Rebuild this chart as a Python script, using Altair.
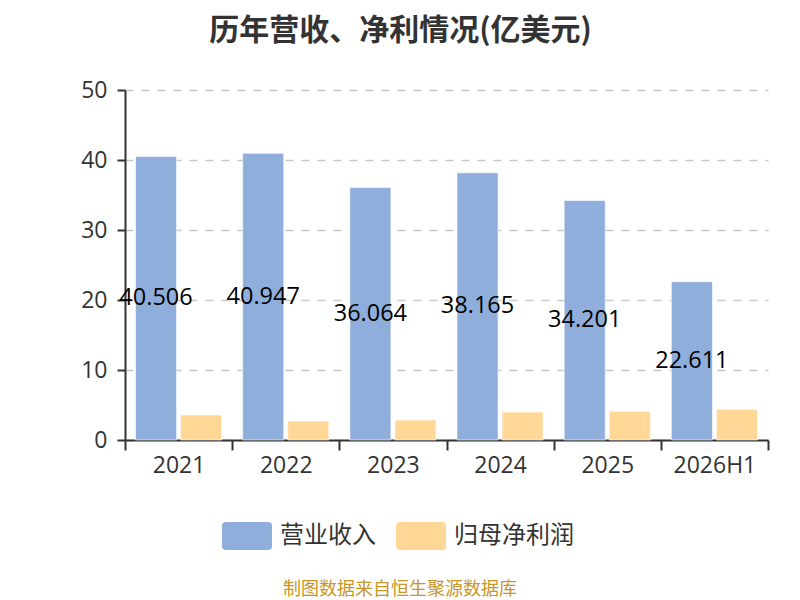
import altair as alt
import pandas as pd

years = ["2021", "2022", "2023", "2024", "2025", "2026H1"]
revenue = [40.506, 40.947, 36.064, 38.165, 34.201, 22.611]
net_profit = [3.57, 2.71, 2.86, 4.0, 4.1, 4.38]
series_names = ["营业收入", "归母净利润"]
colors = ["#8FAEDB", "#FFD898"]

rows = []
for y, r, n in zip(years, revenue, net_profit):
    rows.append({"year": y, "series": series_names[0], "value": r, "label": f"{r:.3f}"})
    rows.append({"year": y, "series": series_names[1], "value": n, "label": ""})
df = pd.DataFrame(rows)
df["half"] = df["value"] / 2

FONT = "Noto Sans CJK SC"
NUM_FONT = "Open Sans"
legend_shape = ("M-0.84,-0.56 H0.84 Q1,-0.56 1,-0.4 V0.4 Q1,0.56 0.84,0.56 "
                "H-0.84 Q-1,0.56 -1,0.4 V-0.4 Q-1,-0.56 -0.84,-0.56 Z")

x_enc = alt.X("year:N", sort=years, title=None,
              scale=alt.Scale(paddingInner=0, paddingOuter=0),
              axis=alt.Axis(labelAngle=0, labelFontSize=23, labelColor="#333",
                            labelFont=NUM_FONT, labelPadding=4,
                            domainColor="#333", domainWidth=2,
                            tickColor="#333", tickWidth=2, tickSize=10,
                            tickBand="extent", grid=False))

xoff = alt.XOffset("series:N", sort=series_names,
                   scale=alt.Scale(paddingInner=0.089, paddingOuter=0.233))

bars = alt.Chart(df).mark_bar(stroke="white", strokeWidth=1, strokeOpacity=0.6).encode(
    x=x_enc,
    xOffset=xoff,
    y=alt.Y("value:Q", title=None,
            scale=alt.Scale(domain=[0, 50]),
            axis=alt.Axis(values=[0, 10, 20, 30, 40, 50], labelFontSize=23,
                          labelColor="#333", labelFont=NUM_FONT, labelPadding=10,
                          domainColor="#333", domainWidth=2,
                          tickColor="#333", tickWidth=2, tickSize=8,
                          gridColor="#c8c8c8", gridDash=[8, 8], gridWidth=1.5)),
    color=alt.Color("series:N", sort=series_names,
                    scale=alt.Scale(domain=series_names, range=colors),
                    legend=alt.Legend(title=None, orient="none", direction="horizontal",
                                      legendX=97, legendY=421,
                                      symbolType=legend_shape, symbolSize=2500,
                                      symbolStrokeWidth=0, symbolOpacity=1,
                                      labelFontSize=24, labelColor="#333",
                                      labelFont=FONT, labelOffset=8,
                                      columnPadding=20)),
)

labels = alt.Chart(df).transform_filter(
    alt.datum.series == series_names[0]
).mark_text(fontSize=23.5, color="#000", font=NUM_FONT, baseline="middle").encode(
    x=alt.X("year:N", sort=years),
    xOffset=xoff,
    y=alt.Y("half:Q"),
    text="label:N",
)

footer_df = pd.DataFrame({"t": ["制图数据来自恒生聚源数据库"]})
footer = alt.Chart(footer_df).mark_text(
    fontSize=18, color="#C8952A", font=FONT, baseline="middle", align="center"
).encode(x=alt.value(275), y=alt.value(500), text="t:N")

chart = alt.layer(bars, labels, footer).properties(
    width=643, height=350,
    title=alt.TitleParams("历年营收、净利情况(亿美元)", fontSize=30, fontWeight="bold",
                          color="#333", font=FONT, anchor="middle", dx=-46, offset=33),
    autosize=alt.AutoSizeParams(type="none"),
    padding={"left": 117, "top": 82, "right": 24, "bottom": 160},
).configure_view(stroke=None)

chart.save("out.html", embed_options={"renderer": "svg", "actions": False})
